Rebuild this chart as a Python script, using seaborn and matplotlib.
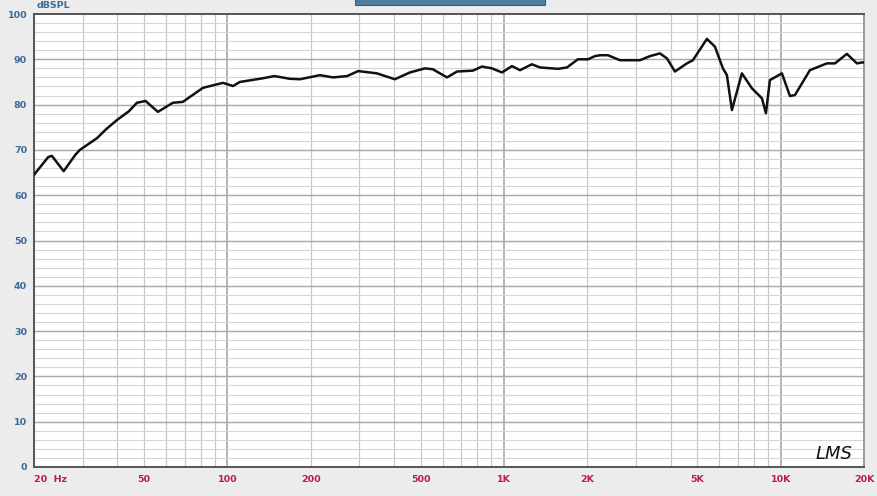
import matplotlib
matplotlib.use("Agg")
import matplotlib.pyplot as plt
import seaborn as sns
import numpy as np
import pandas as pd
from matplotlib.patches import Rectangle

# ---- data ----
freq_hz = [20, 22.5, 23.2, 25.6, 28.2, 29.3, 33.8, 36.5, 39.9, 44.0, 47.1, 50.6,
           56.1, 63.5, 69.0, 81.6, 96.4, 104.8, 111, 134, 148, 168, 183, 216,
           241, 271, 297, 347, 403, 457, 518, 553, 622, 676, 772, 832, 904,
           983, 1068, 1142, 1261, 1348, 1566, 1688, 1849, 2010, 2130, 2222,
           2374, 2624, 3100, 3368, 3660, 3880, 4146, 4582, 4815, 5410, 5784,
           6180, 6390, 6662, 7240, 7868, 8551, 8842, 9140, 10100, 10797, 11254,
           12752, 14688, 15700, 17348, 18852, 19652, 20000]
spl_db = [64.5, 68.4, 68.7, 65.3, 68.9, 70.0, 72.6, 74.6, 76.6, 78.5, 80.4, 80.8,
          78.4, 80.4, 80.6, 83.7, 84.8, 84.1, 85.0, 85.8, 86.3, 85.7, 85.6, 86.5,
          86.0, 86.3, 87.4, 86.9, 85.6, 87.1, 88.0, 87.8, 86.0, 87.3, 87.5, 88.4,
          88.0, 87.1, 88.5, 87.6, 88.9, 88.2, 87.9, 88.2, 90.0, 90.0, 90.7, 90.9,
          90.9, 89.8, 89.8, 90.7, 91.3, 90.2, 87.3, 89.1, 89.8, 94.5, 92.8,
          88.0, 86.5, 78.8, 86.9, 83.6, 81.4, 78.1, 85.4, 86.9, 81.9, 82.1,
          87.6, 89.1, 89.1, 91.2, 89.1, 89.3, 89.3]

x_tick_vals = [20, 50, 100, 200, 500, 1000, 2000, 5000, 10000, 20000]
x_tick_labels = ["20  Hz", "50", "100", "200", "500", "1K", "2K", "5K", "10K", "20K"]
y_tick_vals = list(range(0, 101, 10))
y_tick_labels = [str(v) for v in y_tick_vals]

df = pd.DataFrame({"freq": freq_hz, "spl": spl_db})

sns.set_style("white")
plt.rcParams["font.family"] = ["Liberation Sans Narrow", "DejaVu Sans"]

W, H = 877, 496
fig = plt.figure(figsize=(W / 100, H / 100), dpi=100, facecolor="#ececec")
ax = fig.add_axes([34 / W, 1 - 467 / H, (864 - 34) / W, (467 - 14) / H])
ax.set_facecolor("white")

ax.set_xscale("log")
ax.set_xlim(20, 20000)
ax.set_ylim(0, 100)

# grid lines
minor_x = [m * 10 ** d for d in range(1, 5) for m in range(2, 10) if 20 <= m * 10 ** d <= 20000]
for v in minor_x:
    ax.axvline(v, color="#c8c8c8", lw=0.9, zorder=0)
for v in [100, 1000, 10000]:
    ax.axvline(v, color="#a8a8a8", lw=1.2, zorder=0)
for v in range(2, 100, 2):
    ax.axhline(v, color="#d6d6d6", lw=0.8, zorder=0)
for v in range(10, 100, 10):
    ax.axhline(v, color="#a8a8a8", lw=1.0, zorder=0)

sns.lineplot(data=df, x="freq", y="spl", ax=ax, color="#111111", lw=1.8,
             legend=False, zorder=3)

ax.set_xticks(x_tick_vals)
ax.set_xticklabels(x_tick_labels)
ax.xaxis.set_minor_locator(matplotlib.ticker.NullLocator())
ax.set_yticks(y_tick_vals)
ax.set_yticklabels(y_tick_labels)
ax.tick_params(axis="x", length=0, pad=6, labelsize=6.8, labelcolor="#c0185a")
ax.tick_params(axis="y", length=0, pad=5, labelsize=6.8, labelcolor="#3d6a99")
for t in ax.get_xticklabels() + ax.get_yticklabels():
    t.set_fontweight("bold")
ax.get_xticklabels()[0].set_ha("left")
ax.set_xlabel("")
ax.set_ylabel("")

for side in ["left", "bottom", "top"]:
    ax.spines[side].set_color("#555555")
    ax.spines[side].set_linewidth(1.4)
ax.spines["right"].set_color("#999999")
ax.spines["right"].set_linewidth(1.4)

fig.text(37 / W, 1 - 5 / H, "dBSPL", color="#3d6a99", fontsize=6.8,
         fontweight="bold", ha="left", va="center")
ax.text(0.986, 0.008, "LMS", transform=ax.transAxes, fontsize=13,
        style="italic", color="#111111", ha="right", va="bottom",
        family=["DejaVu Sans"])

fig.patches.append(Rectangle((355 / W, 1 - 5 / H), 190 / W, 6 / H,
                             transform=fig.transFigure, facecolor="#4f7fa0",
                             edgecolor="#3a6080", lw=0.8, figure=fig))

fig.savefig("out.png", dpi=100, facecolor=fig.get_facecolor())
